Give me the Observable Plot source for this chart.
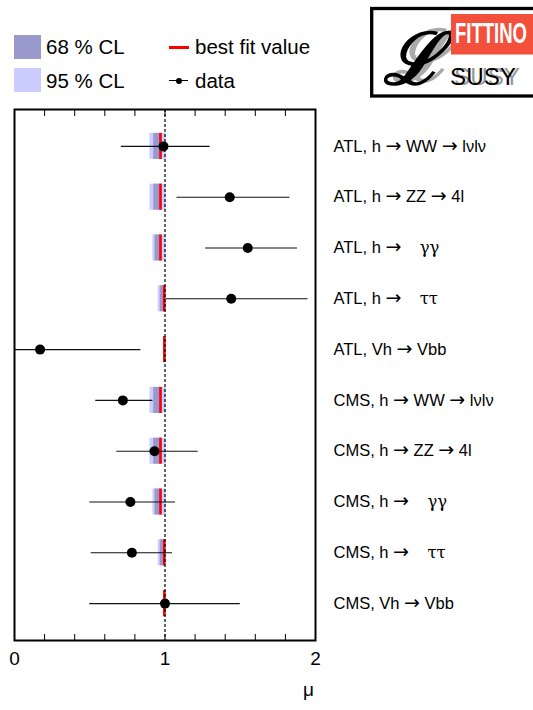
<!DOCTYPE html>
<html>
<head>
<meta charset="utf-8">
<script src="https://cdn.jsdelivr.net/npm/d3@7"></script>
<script src="https://cdn.jsdelivr.net/npm/@observablehq/plot@0.6"></script>
<style>
  html, body { margin: 0; padding: 0; background: white; }
  body { width: 533px; height: 710px; overflow: hidden; position: relative; font-family: "Liberation Sans", Arial, sans-serif; }
  #header { position: absolute; left: 0; top: 0; width: 533px; height: 100px; }
  .sw { position: absolute; left: 14px; width: 27px; height: 24px; }
  .lt { position: absolute; font-size: 20.5px; line-height: 20px; white-space: nowrap; color: #000; }
  #chart { position: absolute; left: 0; top: 100px; }
</style>
</head>
<body>
<div id="header">
  <div class="sw" style="top:35px; background:#9999cc;"></div>
  <div class="sw" style="top:68px; background:#ccccff;"></div>
  <div class="lt" style="left:46px; top:37px;">68 % CL</div>
  <div class="lt" style="left:46px; top:71px;">95 % CL</div>
  <div style="position:absolute; left:169px; top:45.5px; width:20px; height:3px; background:#ff0000;"></div>
  <div class="lt" style="left:195px; top:37px;">best fit value</div>
  <div style="position:absolute; left:169px; top:80px; width:19px; height:1.3px; background:#000;"></div>
  <div style="position:absolute; left:175.5px; top:77.5px; width:6px; height:6px; border-radius:50%; background:#000;"></div>
  <div class="lt" style="left:195px; top:71px;">data</div>
  <svg id="logo" width="163" height="95" style="position:absolute; left:370px; top:5px;">
    <rect x="1.7" y="3.5" width="175" height="87.5" fill="white" stroke="black" stroke-width="3.3"/>
    <text x="22" y="76" fill="#aaaaaa" font-family="DejaVu Serif" font-style="italic" font-weight="bold" font-size="72">ℒ</text>
    <text x="13" y="79" fill="#000" font-family="DejaVu Serif" font-style="italic" font-weight="bold" font-size="72">ℒ</text>
    <rect x="81" y="9" width="95" height="40.5" fill="#f3503c"/>
    <text x="85" y="38.3" fill="white" font-family="Liberation Sans Narrow, Liberation Sans" font-weight="bold" font-size="30" textLength="72" lengthAdjust="spacingAndGlyphs">FITTINO</text>
    <text x="84" y="80" fill="#999" font-family="Liberation Sans" font-size="24" textLength="66" lengthAdjust="spacingAndGlyphs">SUSY</text>
    <text x="80" y="80" fill="#000" font-family="Liberation Sans" font-size="24" textLength="66" lengthAdjust="spacingAndGlyphs">SUSY</text>
  </svg>
</div>
<div id="chart"></div>
<script>
// ---- data ----
const labels = [
  "ATL, h → WW → lνlν",
  "ATL, h → ZZ → 4l",
  "ATL, h →\u00a0\u00a0\u00a0\u00a0γγ",
  "ATL, h →\u00a0\u00a0\u00a0\u00a0ττ",
  "ATL, Vh → Vbb",
  "CMS, h → WW → lνlν",
  "CMS, h → ZZ → 4l",
  "CMS, h →\u00a0\u00a0\u00a0\u00a0γγ",
  "CMS, h →\u00a0\u00a0\u00a0\u00a0ττ",
  "CMS, Vh → Vbb"
];
const muData  = [0.99, 1.43, 1.55, 1.44, 0.17, 0.72, 0.93, 0.77, 0.78, 1.00];
const muLow   = [0.71, 1.08, 1.27, 1.01, -0.30, 0.54, 0.68, 0.50, 0.51, 0.50];
const muHigh  = [1.30, 1.83, 1.88, 1.95, 0.84, 0.92, 1.22, 1.07, 1.05, 1.50];
const bestFit = [0.970, 0.970, 0.970, 0.995, 0.996, 0.970, 0.970, 0.970, 0.995, 0.996];
const cl68Low  = [0.925, 0.925, 0.934, 0.969, 0.992, 0.925, 0.925, 0.934, 0.969, 0.992];
const cl68High = [0.980, 0.980, 0.980, 0.995, 1.000, 0.980, 0.980, 0.980, 0.995, 1.000];
const cl95Low  = [0.900, 0.900, 0.920, 0.955, 0.990, 0.900, 0.900, 0.920, 0.955, 0.990];
const cl95High = [1.008, 1.008, 1.008, 1.008, 1.002, 1.008, 1.008, 1.008, 1.008, 1.002];
const majorTicks = [0, 1, 2];
const minorTicks = [0.2, 0.4, 0.6, 0.8, 1.0, 1.2, 1.4, 1.6, 1.8];
const xLabel = "μ";

const rows = labels.map((label, i) => ({
  label, mu: muData[i], lo: muLow[i], hi: muHigh[i], best: bestFit[i],
  l68: cl68Low[i], h68: cl68High[i], l95: cl95Low[i], h95: cl95High[i]
}));

const chart = Plot.plot({
  width: 533,
  height: 610,
  marginTop: 9,
  marginBottom: 70,
  marginLeft: 14,
  marginRight: 218,
  style: { fontFamily: "Liberation Sans, Arial, sans-serif", background: "white", color: "black" },
  x: { domain: [0, 2], label: null },
  y: { type: "band", domain: labels, paddingInner: 0.488, paddingOuter: 0.47, round: false, axis: null, label: null },
  marks: [
    Plot.barX(rows, { y: "label", x1: "l95", x2: "h95", fill: "#ccccff" }),
    Plot.barX(rows, { y: "label", x1: "l68", x2: "h68", fill: "#9999cc" }),
    Plot.tickX(rows, { y: "label", x: "best", stroke: "#ff0000", strokeWidth: 2.6 }),
    Plot.ruleX([1], { stroke: "black", strokeWidth: 1.2, strokeDasharray: "3,2" }),
    Plot.ruleY(rows, { y: "label", x1: "lo", x2: "hi", stroke: "#111", strokeWidth: 1.1, clip: true }),
    Plot.dot(rows, { y: "label", x: "mu", r: 5, fill: "black", stroke: "none" }),
    Plot.text(rows, { y: "label", text: "label", frameAnchor: "right", textAnchor: "start", dx: 18, fontSize: 16.5 }),
    Plot.frame({ stroke: "black", strokeWidth: 2 }),
    Plot.axisX(minorTicks, { anchor: "bottom", tickSize: -6, tickFormat: () => "", label: null }),
    Plot.axisX(minorTicks, { anchor: "top", tickSize: -6, tickFormat: () => "", label: null }),
    Plot.axisX(majorTicks, { anchor: "bottom", tickSize: 0, tickPadding: 11, fontSize: 19, label: null, tickFormat: d => String(d) }),
    Plot.text([xLabel], { frameAnchor: "bottom-right", dx: -7, dy: 55, fontSize: 19, textAnchor: "middle" })
  ]
});
document.getElementById("chart").appendChild(chart);

// render arrows and Greek letters in symbol-like fonts (as in the original ROOT output)
chart.querySelectorAll("text").forEach(t => {
  const s = t.textContent;
  if (!s.includes("→")) return;
  while (t.firstChild) t.removeChild(t.firstChild);
  const parts = s.split(/(→|[γτ]+)/);
  for (const p of parts) {
    if (!p) continue;
    const ts = document.createElementNS("http://www.w3.org/2000/svg", "tspan");
    ts.textContent = p;
    if (p === "→") { ts.setAttribute("font-family", "DejaVu Sans"); ts.setAttribute("font-size", "19"); }
    else if (/^[γτ]+$/.test(p)) ts.setAttribute("font-family", "DejaVu Serif");
    t.appendChild(ts);
  }
});
</script>
</body>
</html>
